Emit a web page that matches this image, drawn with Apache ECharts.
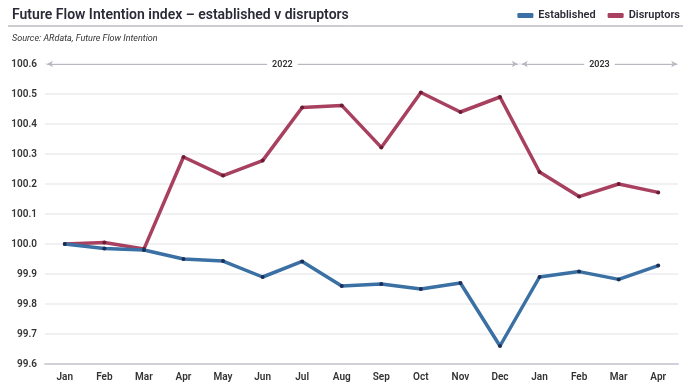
<!DOCTYPE html>
<html><head><meta charset="utf-8">
<script src="https://cdn.jsdelivr.net/npm/echarts@6/dist/echarts.min.js"></script>
<style>html,body{margin:0;padding:0;background:#fff}#c{width:693px;height:387px}</style>
</head><body><div id="c"></div>
<script>
const months = ['Jan','Feb','Mar','Apr','May','Jun','Jul','Aug','Sep','Oct','Nov','Dec','Jan','Feb','Mar','Apr'];
const established = [100.0, 99.985, 99.98, 99.95, 99.943, 99.89, 99.942, 99.86, 99.867, 99.85, 99.87, 99.66, 99.89, 99.908, 99.882, 99.928];
const disruptors = [100.0, 100.005, 99.983, 100.29, 100.228, 100.278, 100.455, 100.462, 100.322, 100.505, 100.44, 100.49, 100.24, 100.158, 100.2, 100.172];
const years = ['2022', '2023'];
const yearSpans = [[-0.5, 11.5], [11.5, 15.5]];

const blue = '#3a70a3', red = '#a8405f';
const chart = echarts.init(document.getElementById('c'));
const font = 'Roboto, "Liberation Sans", sans-serif';
chart.setOption({
  animation: false,
  textStyle: {fontFamily: font},
  title: {
    text: 'Future Flow Intention index \u2013 established v disruptors',
    left: 7, top: 3,
    textStyle: {fontSize: 14, fontWeight: 600, color: '#2b2b38', fontFamily: font},
    subtext: 'Source: ARdata, Future Flow Intention',
    subtextStyle: {fontSize: 9, fontStyle: 'italic', color: '#333', fontFamily: font},
    itemGap: 12
  },
  graphic: [{type: 'line', shape: {x1: 8, y1: 26, x2: 683, y2: 26}, style: {stroke: '#9a9aa5', lineWidth: 1}}],
  legend: {
    right: 8, top: 5, itemWidth: 16, itemHeight: 5, itemGap: 12, icon: 'roundRect',
    textStyle: {fontSize: 11, fontWeight: 600, color: '#2b2b38'},
    data: [{name: 'Established', itemStyle: {color: blue}}, {name: 'Disruptors', itemStyle: {color: red}}]
  },
  grid: {left: 45, right: 15, top: 64, bottom: 23},
  xAxis: [{
    type: 'category', data: months,
    axisLine: {lineStyle: {color: '#d0d0d8', width: 2}},
    axisTick: {show: false},
    axisLabel: {fontSize: 10, fontWeight: 600, color: '#333', margin: 8}
  }, {
    type: 'value', min: -0.5, max: 15.5, show: false
  }],
  yAxis: {
    type: 'value', min: 99.6, max: 100.6, interval: 0.1,
    axisLine: {show: false}, axisTick: {show: false},
    axisLabel: {fontSize: 10, fontWeight: 600, color: '#333', margin: 8, formatter: v => v.toFixed(1)},
    splitLine: {lineStyle: {color: '#ececf0', width: 1.5}}
  },
  series: [{
    name: 'Established', type: 'line', data: established,
    color: blue,
    lineStyle: {width: 3.5, color: blue},
    symbol: 'circle', symbolSize: 4,
    itemStyle: {color: '#1c2e55'},
    z: 3
  }, {
    name: 'Disruptors', type: 'line', data: disruptors,
    color: red,
    lineStyle: {width: 3.5, color: red},
    symbol: 'circle', symbolSize: 4,
    itemStyle: {color: '#6a1c34'},
    z: 2
  }, {
    type: 'line', xAxisIndex: 1, data: [], silent: true,
    markLine: {
      silent: true,
      symbol: ['arrow', 'arrow'], symbolSize: [5, 6],
      lineStyle: {color: '#b8b8c2', width: 1, type: 'solid'},
      data: [
        [{coord: [yearSpans[0][0] + 0.05, 100.6], name: years[0]}, {coord: [yearSpans[0][1] - 0.05, 100.6]}],
        [{coord: [yearSpans[1][0] + 0.05, 100.6], name: years[1]}, {coord: [yearSpans[1][1] - 0.02, 100.6]}],
        [{coord: [11.5, 99.55], symbol: 'none', lineStyle: {type: 'dashed', color: '#cfcfd6', width: 1}, label: {show: false}}, {coord: [11.5, 100.65], symbol: 'none'}]
      ],
      label: {show: true, position: 'middle', distance: -6, formatter: p => p.name, fontSize: 9, fontWeight: 600, color: '#333', backgroundColor: '#fff', padding: [1, 5]}
    }
  }]
});
</script></body></html>
